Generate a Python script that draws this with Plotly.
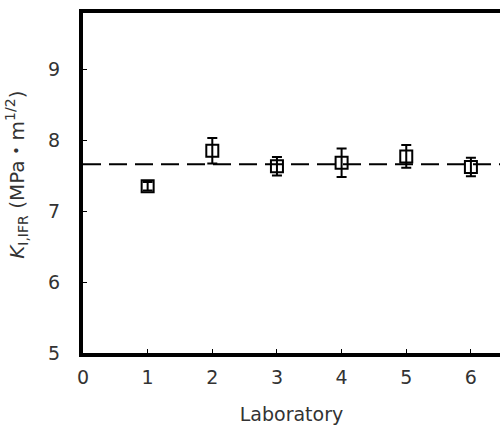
import plotly.graph_objects as go

laboratories = [1, 2, 3, 4, 5, 6]
k_values = [7.35, 7.85, 7.63, 7.68, 7.77, 7.62]
k_errors = [0.06, 0.18, 0.13, 0.20, 0.16, 0.13]
mean_value = 7.66
x_ticks = [0, 1, 2, 3, 4, 5, 6]
y_ticks = [5, 6, 7, 8, 9]
x_range = [0, 6.45]
y_range = [5, 9.79]
y_title = "<i>K</i><sub>I,IFR</sub> (MPa・m<sup>1/2</sup>)"

FONT = "DejaVu Sans, Noto Sans CJK JP"
COLOR = "#333333"

fig = go.Figure()

fig.add_trace(go.Scatter(
    x=x_range, y=[mean_value, mean_value], mode="lines",
    line=dict(color="black", width=2, dash="18px,8px"),
    showlegend=False, hoverinfo="skip",
))

fig.add_trace(go.Scatter(
    x=laboratories, y=k_values, mode="markers",
    marker=dict(symbol="square-open", size=12, color="black",
                line=dict(color="black", width=2)),
    error_y=dict(type="data", array=k_errors, visible=True,
                 color="black", thickness=2, width=5),
    showlegend=False,
))

# y tick labels placed through the y scale, farther from the axis
for v in y_ticks:
    fig.add_annotation(
        x=0, xref="paper", y=v, yref="y", text=str(v), showarrow=False,
        xanchor="right", yanchor="middle", xshift=-21,
        font=dict(family=FONT, size=19, color=COLOR),
    )

fig.add_annotation(
    x=0, xref="paper", y=0.524, yref="paper", text=y_title, showarrow=False,
    textangle=-90, xanchor="center", yanchor="middle", xshift=-66,
    font=dict(family=FONT, size=20, color=COLOR),
)

fig.update_layout(
    width=500, height=426,
    margin=dict(l=83, r=0, t=13, b=73),
    paper_bgcolor="white", plot_bgcolor="white",
    font=dict(family=FONT, color=COLOR, size=19),
    xaxis=dict(
        range=x_range, tickvals=x_ticks, ticks="inside", ticklen=4,
        tickwidth=1, tickcolor="black",
        showline=True, linecolor="black", linewidth=4, mirror=True,
        showgrid=False, zeroline=False, ticklabelstandoff=4,
        tickfont=dict(family=FONT, size=19, color=COLOR),
        title=dict(text="Laboratory", font=dict(family=FONT, size=19, color=COLOR), standoff=22),
    ),
    yaxis=dict(
        range=y_range, tickvals=y_ticks, ticks="inside", ticklen=4,
        tickwidth=1, tickcolor="black", showticklabels=False,
        showline=True, linecolor="black", linewidth=4, mirror=False,
        showgrid=False, zeroline=False,
    ),
)

fig.write_html("out.html")
